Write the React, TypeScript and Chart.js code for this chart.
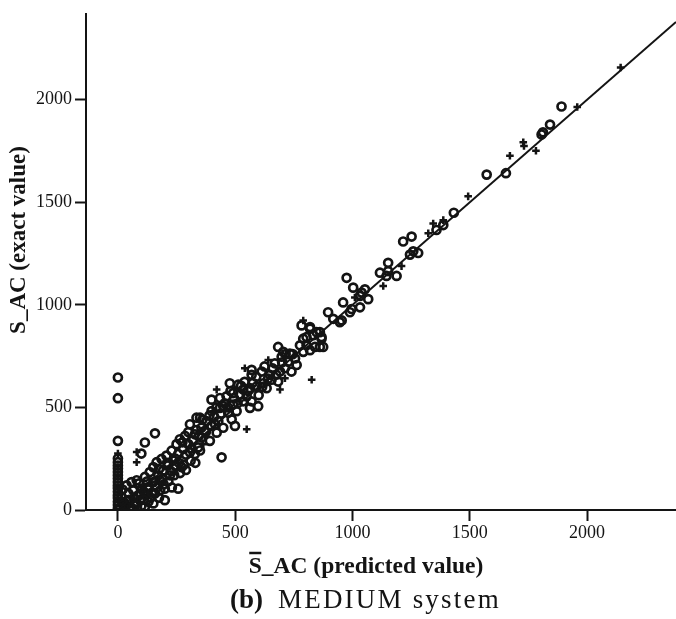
import React, { useEffect, useRef } from "react";
import { Chart, registerables } from "chart.js";

Chart.register(...registerables);

// ---- data ----
const circleX = [
  1216, 1252, 1259, 1280, 1245, 1358, 1387, 1432, 1572, 1654, 1806, 1812, 1842, 1891,
  1152, 1117, 1145, 1188, 1152, 975, 1003, 1039, 1053, 1067, 1032, 960, 996, 1032, 989,
  896, 918, 946, 954, 790, 819, 833, 861, 868, 840, 875, 804,
  783, 819, 847, 868, 804, 861, 819, 776, 790, 683, 705, 733, 698, 726, 755, 762, 712, 740,
  691, 669, 570, 613, 570, 648, 620, 591, 634, 655, 683, 477, 513, 534, 563, 520, 549, 570,
  491, 563, 598, 534, 399, 435, 463, 449, 491, 470, 506, 485, 350, 378, 414, 449, 499, 371, 421,
  37, 58, 80, 65, 101, 115, 136, 151, 165, 186, 207, 229, 250, 264, 286, 307, 335, 356, 399,
  428, 399, 435, 328, 300, 278, 257, 236, 214, 193, 172, 151, 129, 115, 94, 72, 44, 30, 16,
  158, 200, 200, 257, 179, 222, 271, 243, 307, 342, 328, 356, 392, 442, 151, 115, 51,
  115, 158, 100,
  0, 0, 0, 0, 0, 0, 0, 0, 0, 0, 0, 0, 0, 0, 0, 0, 0, 0, 0,
  20, 25, 60, 85, 130, 175, 100,
  20, 45, 70, 90, 110, 125, 140, 160, 175, 190, 210, 225, 245, 260, 275, 290, 300, 315, 320,
  335, 345, 360, 375, 390, 410, 420, 440, 455, 470, 480, 495, 510, 525, 540, 555, 575, 590,
  600, 615, 625, 640, 660, 675, 700, 715, 745,
  10, 35, 50, 75, 95, 110, 130, 145, 165, 180, 195, 215, 230, 240, 265, 280, 290, 310, 330, 350,
];
const circleY = [
  1309, 1333, 1261, 1253, 1245, 1365, 1389, 1449, 1635, 1642, 1831, 1841, 1879, 1967,
  1205, 1157, 1141, 1141, 1165, 1132, 1084, 1060, 1076, 1028, 1044, 1012, 980, 988, 964,
  964, 932, 916, 924, 835, 884, 852, 867, 835, 795, 795, 803,
  900, 892, 867, 843, 843, 795, 779, 803, 771, 795, 771, 763, 747, 723, 739, 707, 691, 675,
  675, 715, 683, 675, 659, 659, 618, 602, 594, 635, 626, 618, 611, 587, 594, 562, 554, 530,
  570, 498, 506, 530, 538, 546, 554, 506, 514, 474, 482, 442, 450, 434, 418, 401, 410, 386, 377,
  120, 136, 145, 96, 104, 161, 185, 209, 233, 249, 265, 289, 321, 345, 361, 418, 450, 401, 410,
  434, 482, 498, 369, 321, 297, 273, 241, 217, 193, 169, 136, 112, 80, 48, 32, 48, 32, 64,
  80, 104, 48, 104, 145, 169, 209, 217, 281, 305, 273, 353, 337, 257, 32, 16, 16,
  329, 374, 275,
  646, 545, 337, 251, 233, 217, 202, 185, 169, 154, 136, 120, 106, 89, 72, 58, 40, 24, 8,
  100, 15, 10, 70, 40, 60, 20,
  40, 80, 60, 130, 90, 140, 60, 120, 200, 150, 230, 190, 250, 230, 330, 270, 380, 300, 340,
  390, 360, 440, 380, 460, 455, 500, 470, 520, 500, 580, 545, 520, 605, 625, 580, 620, 650,
  560, 600, 700, 640, 690, 660, 720, 760, 760,
  10, 20, 50, 25, 75, 50, 100, 85, 110, 95, 125, 140, 110, 170, 180, 220, 195, 240, 230, 290,
];
const plusX = [
  2143, 1958, 1782, 1728, 1731, 1671, 1493, 1387, 1344, 1323, 1209, 1131, 1010, 790, 826,
  641, 712, 691, 541, 421, 549, 406, 364, 80, 80, 0,
];
const plusY = [
  2157, 1965, 1751, 1793, 1775, 1727, 1529, 1413, 1397, 1349, 1189, 1092, 1036, 924, 635,
  731, 642, 587, 691, 587, 394, 482, 321, 283, 233, 275,
];
const xTicks = [0, 500, 1000, 1500, 2000];
const yTicks = [0, 500, 1000, 1500, 2000];
const xMin = -136;
const xMax = 2379;
const yMin = 0;
const yMax = 2419;
const fitSlope = 1.0;
const fitIntercept = 0;
const xTitle = "S_AC (predicted value)";
const yTitle = "S_AC (exact value)";
const captionBold = "(b)";
const captionText = "MEDIUM system";

const INK = "#141414";
const SERIF = '"Liberation Serif", "Times New Roman", serif';

const titlePlugin = {
  id: "customTitles",
  afterDraw(chart: any) {
    const ctx = chart.ctx as CanvasRenderingContext2D;
    // y-axis title
    ctx.save();
    ctx.fillStyle = INK;
    ctx.font = `bold 23px ${SERIF}`;
    ctx.textAlign = "center";
    ctx.textBaseline = "middle";
    ctx.translate(19, 240);
    ctx.rotate(-Math.PI / 2);
    ctx.fillText(yTitle, 0, 0);
    ctx.restore();

    // x-axis title with overline on the S
    ctx.save();
    ctx.fillStyle = INK;
    ctx.strokeStyle = INK;
    ctx.font = `bold 23.5px ${SERIF}`;
    ctx.textAlign = "left";
    ctx.textBaseline = "alphabetic";
    const w = ctx.measureText(xTitle).width;
    const x0 = 366 - w / 2;
    ctx.fillText(xTitle, x0, 573);
    const sW = ctx.measureText("S").width;
    ctx.lineWidth = 2.5;
    ctx.beginPath();
    ctx.moveTo(x0 + 0.5, 553);
    ctx.lineTo(x0 + sW - 0.5, 553);
    ctx.stroke();
    ctx.restore();

    // caption
    ctx.save();
    ctx.fillStyle = INK;
    ctx.textBaseline = "alphabetic";
    ctx.font = `bold 27px ${SERIF}`;
    ctx.textAlign = "right";
    ctx.fillText(captionBold, 263, 608);
    ctx.font = `27px ${SERIF}`;
    ctx.textAlign = "left";
    (ctx as any).letterSpacing = "2.2px";
    ctx.fillText(captionText, 278, 608);
    ctx.restore();
  },
};

export default function App() {
  const ref = useRef<HTMLCanvasElement | null>(null);

  useEffect(() => {
    if (!ref.current) return;
    const circles = circleX.map((x, i) => ({ x, y: circleY[i] }));
    const pluses = plusX.map((x, i) => ({ x, y: plusY[i] }));
    const fit = [xMin, xMax].map((x) => ({ x, y: fitIntercept + fitSlope * x }));

    const chart = new Chart(ref.current, {
      type: "scatter",
      data: {
        datasets: [
          {
            label: "fit",
            data: fit,
            showLine: true,
            borderColor: INK,
            borderWidth: 2,
            pointRadius: 0,
            fill: false,
          } as any,
          {
            label: "circle",
            data: circles,
            pointStyle: "circle",
            pointRadius: 4,
            pointBorderWidth: 2.7,
            pointBorderColor: INK,
            pointBackgroundColor: "rgba(0,0,0,0)",
          },
          {
            label: "plus",
            data: pluses,
            pointStyle: "cross",
            pointRadius: 3.8,
            pointBorderWidth: 2.5,
            pointBorderColor: INK,
            pointBackgroundColor: INK,
          },
        ],
      },
      options: {
        animation: false,
        responsive: false,
        devicePixelRatio: 1,
        layout: { autoPadding: false, padding: { top: 8, right: 0, bottom: 0, left: 0 } },
        plugins: {
          legend: { display: false },
          tooltip: { enabled: false },
          title: { display: false },
        },
        scales: {
          x: {
            type: "linear",
            min: xMin,
            max: xMax,
            afterBuildTicks: (s: any) => {
              s.ticks = xTicks.map((v) => ({ value: v }));
            },
            afterFit: (s: any) => {
              s.height = 109;
            },
            grid: {
              display: true,
              drawOnChartArea: false,
              drawTicks: true,
              tickLength: 11,
              tickWidth: 2,
              tickColor: INK,
            },
            border: { display: true, color: INK, width: 2 },
            ticks: {
              color: INK,
              font: { family: SERIF, size: 18 },
              padding: 1,
              maxRotation: 0,
              autoSkip: false,
              callback: (v: any) => String(v),
            },
          },
          y: {
            type: "linear",
            min: yMin,
            max: yMax,
            afterBuildTicks: (s: any) => {
              s.ticks = yTicks.map((v) => ({ value: v }));
            },
            afterFit: (s: any) => {
              s.width = 86;
            },
            grid: {
              display: true,
              drawOnChartArea: false,
              drawTicks: true,
              tickLength: 11,
              tickWidth: 2,
              tickColor: INK,
            },
            border: { display: true, color: INK, width: 2 },
            ticks: {
              color: INK,
              font: { family: SERIF, size: 18 },
              padding: 3,
              autoSkip: false,
              callback: (v: any) => String(v),
            },
          },
        },
      },
      plugins: [titlePlugin],
    });
    return () => chart.destroy();
  }, []);

  return (
    <div style={{ position: "absolute", left: 0, top: 0, width: 676, height: 619, background: "#fff" }}>
      <canvas ref={ref} width={676} height={619} style={{ display: "block" }} />
    </div>
  );
}
